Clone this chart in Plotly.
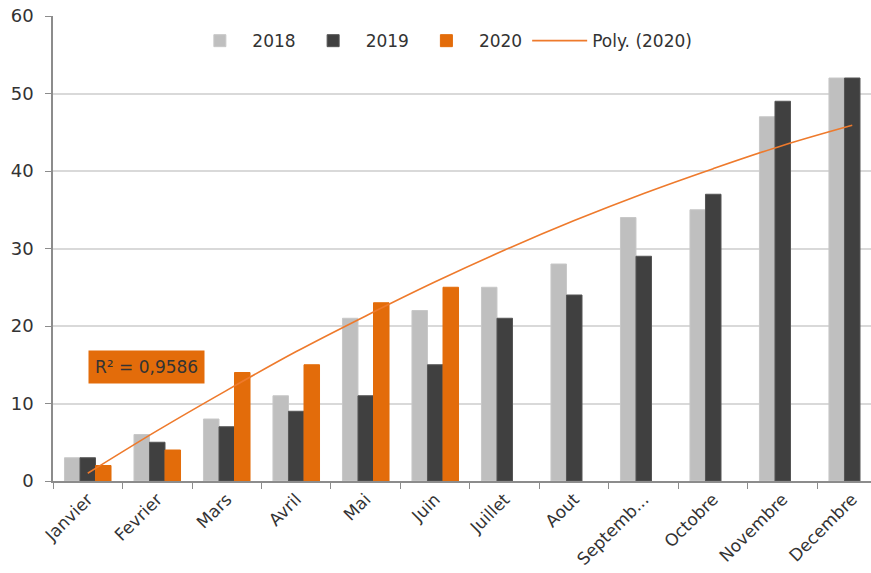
import plotly.graph_objects as go

months = ["Janvier", "Fevrier", "Mars", "Avril", "Mai", "Juin", "Juillet",
          "Aout", "Septemb...", "Octobre", "Novembre", "Decembre"]
v2018 = [3, 6, 8, 11, 21, 22, 25, 28, 34, 35, 47, 52]
v2019 = [3, 5, 7, 9, 11, 15, 21, 24, 29, 37, 49, 52]
v2020 = [2, 4, 14, 15, 23, 25, None, None, None, None, None, None]
poly2020 = [1.0, 6.5, 11.7, 16.7, 21.3, 25.7, 29.8, 33.6, 37.1, 40.3, 43.3, 45.9]
r2_text = "R² = 0,9586"

FONT = "DejaVu Sans"
TXT = "#333333"

fig = go.Figure()
fig.add_bar(x=months, y=v2018, name="2018", marker=dict(color="#BFBFBF", line=dict(color="#C8C8C8", width=1)))
fig.add_bar(x=months, y=v2019, name="2019", marker=dict(color="#404040", line=dict(color="#555555", width=1)))
fig.add_bar(x=months, y=v2020, name="2020", marker=dict(color="#E36C0A", line=dict(color="#E36C0A", width=1)))
fig.add_scatter(x=months, y=poly2020, name="Poly. (2020)", mode="lines",
                line=dict(color="#EE7A2C", width=1.6, shape="spline"))

fig.update_layout(
    width=871, height=573,
    margin=dict(l=53, r=0, t=16, b=92, autoexpand=False),
    paper_bgcolor="white", plot_bgcolor="white",
    barmode="group", bargap=0.33, bargroupgap=0,
    font=dict(family=FONT, size=16, color=TXT),
    showlegend=True,
    legend=dict(orientation="h", x=0.476, xanchor="center", y=0.946, yanchor="middle",
                font=dict(family=FONT, size=17, color=TXT), bgcolor="rgba(0,0,0,0)",
                traceorder="normal", itemwidth=55),
    annotations=[dict(x=0.84, y=14.7, xref="x", yref="y", text=r2_text, showarrow=False,
                      bgcolor="#E36C0A", borderpad=6, font=dict(family=FONT, size=17, color=TXT))],
)
fig.update_xaxes(range=[-0.5, 11.27], showline=True, linecolor="#8C8C8C", linewidth=1.5,
                 ticks="outside", tickson="boundaries", ticklen=6, tickcolor="#8C8C8C",
                 tickangle=-45, tickfont=dict(family=FONT, size=17, color=TXT), showgrid=False,
                 automargin=False)
fig.update_yaxes(range=[0, 60], dtick=10, showline=True, linecolor="#8C8C8C", linewidth=1.5,
                 ticks="outside", ticklen=6, tickcolor="#8C8C8C", showgrid=True,
                 gridcolor="#D9D9D9", gridwidth=1.5, zeroline=False, automargin=False,
                 ticklabelstandoff=8, tickfont=dict(family=FONT, size=18, color=TXT))

fig.write_html("out.html", config={"displayModeBar": False},
               post_script="document.body.style.margin='0';document.body.style.overflow='hidden';")
